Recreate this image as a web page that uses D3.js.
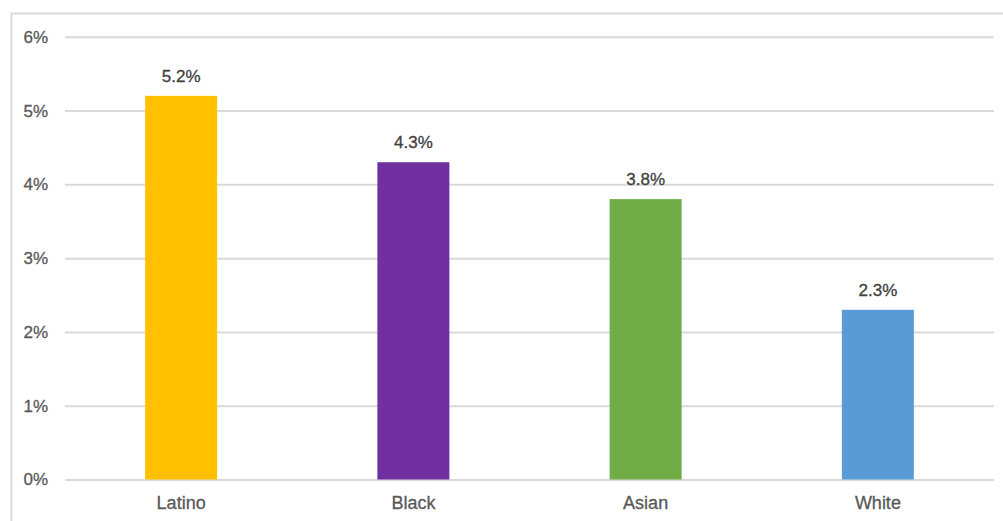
<!DOCTYPE html>
<html>
<head>
<meta charset="utf-8">
<script src="https://cdn.jsdelivr.net/npm/d3@7"></script>
<style>
  html, body { margin: 0; padding: 0; background: #fff; }
  svg { display: block; font-family: "Liberation Sans", Arial, sans-serif; }
</style>
</head>
<body>
<svg id="chart" width="1003" height="521"></svg>
<script>
// Unemployment rate by group (percent)
const groups = ["Latino", "Black", "Asian", "White"];
const rates = [5.2, 4.3, 3.8, 2.3];
const barColors = ["#FFC000", "#7030A0", "#70AD47", "#5B9BD5"];
const yTicks = [0, 1, 2, 3, 4, 5, 6];

const svg = d3.select("#chart");
const W = 1003, H = 521;
const plot = { left: 65, right: 994, top: 36.8, bottom: 479.5 };

// Chart frame (top and left edges visible)
svg.append("path")
  .attr("d", `M11.5,${H} V13.5 H${W}`)
  .attr("fill", "none")
  .attr("stroke", "#D9D9D9")
  .attr("stroke-width", 2);

const x = d3.scaleBand()
  .domain(groups)
  .range([plot.left, plot.right])
  .paddingInner(0.69)
  .paddingOuter(0.345);

const y = d3.scaleLinear()
  .domain([0, 6])
  .range([plot.bottom, plot.top]);

// Horizontal gridlines with percent labels
const yAxis = d3.axisLeft(y)
  .tickValues(yTicks)
  .tickSize(-(plot.right - plot.left))
  .tickPadding(17)
  .tickFormat(d => d + "%");

const gy = svg.append("g")
  .attr("transform", `translate(${plot.left},0)`)
  .call(yAxis);
gy.select(".domain").remove();
gy.selectAll(".tick line").attr("stroke", "#D9D9D9").attr("stroke-width", 2);
gy.selectAll(".tick text")
  .attr("fill", "#595959")
  .attr("stroke", "#595959")
  .attr("stroke-width", 0.3)
  .style("font-size", "17px");

// Bars
const data = groups.map((g, i) => ({ g, v: rates[i], c: barColors[i] }));
svg.append("g").selectAll("rect")
  .data(data)
  .join("rect")
  .attr("x", d => x(d.g))
  .attr("y", d => y(d.v))
  .attr("width", x.bandwidth())
  .attr("height", d => y(0) - y(d.v))
  .attr("fill", d => d.c);

// Value labels above bars
svg.append("g").selectAll("text")
  .data(data)
  .join("text")
  .attr("x", d => x(d.g) + x.bandwidth() / 2)
  .attr("y", d => y(d.v) - 14)
  .attr("text-anchor", "middle")
  .attr("fill", "#404040")
  .attr("stroke", "#404040")
  .attr("stroke-width", 0.3)
  .style("font-size", "17px")
  .text(d => d.v.toFixed(1) + "%");

// Category labels
const xAxis = d3.axisBottom(x).tickSize(0).tickPadding(17);
const gx = svg.append("g")
  .attr("transform", `translate(0,${plot.bottom})`)
  .call(xAxis);
gx.select(".domain").remove();
gx.selectAll(".tick text")
  .attr("fill", "#595959")
  .attr("stroke", "#595959")
  .attr("stroke-width", 0.3)
  .style("font-size", "18px");
</script>
</body>
</html>
